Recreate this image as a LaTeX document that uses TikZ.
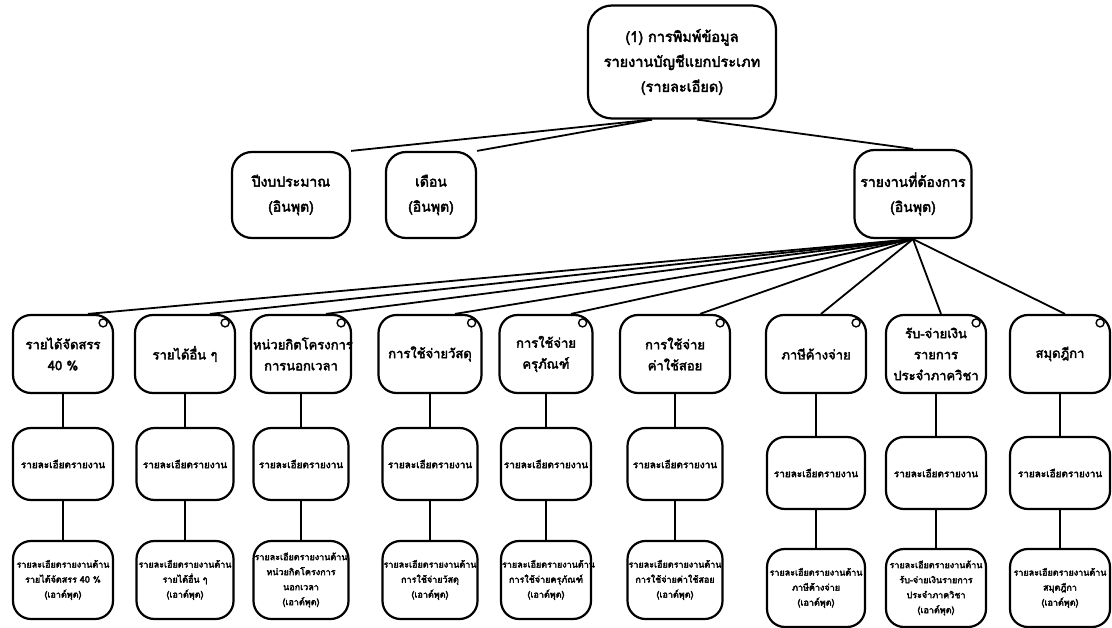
\documentclass[tikz,border=0pt]{standalone}
\usepackage{fontspec}
\usetikzlibrary{calc}
\newfontfamily\thaifont[Script=Thai,FakeBold=3]{Loma}
\begin{document}
\begin{tikzpicture}[x=1pt,y=-1pt,
  box/.style={draw,line width=2.2pt,rounded corners=18pt,align=center,inner sep=1pt,font=\thaifont\fontsize{13}{21}\selectfont},
  small/.style={box,font=\thaifont\fontsize{10}{15}\selectfont},
  link/.style={line width=1.8pt},
  sel/.style={draw,circle,line width=1.4pt,minimum size=8pt,inner sep=0pt}]
\useasboundingbox (0,0) rectangle (1112,628);
% top
\node[box,minimum width=188pt,minimum height=113pt,rounded corners=24pt,font=\thaifont\fontsize{14.5}{25}\selectfont] (top) at (682,62) {(1) การพิมพ์ข้อมูล\\รายงานบัญชีแยกประเภท\\(รายละเอียด)};
% level 2
\node[box,minimum width=118pt,minimum height=86pt,rounded corners=20pt,font=\thaifont\fontsize{14}{25}\selectfont] (p1) at (291,195) {ปีงบประมาณ\\(อินพุต)};
\node[box,minimum width=90pt,minimum height=86pt,rounded corners=20pt,font=\thaifont\fontsize{14}{25}\selectfont] (p2) at (431,195) {เดือน\\(อินพุต)};
\node[box,minimum width=117pt,minimum height=88pt,rounded corners=20pt,font=\thaifont\fontsize{14}{25}\selectfont] (p3) at (913,194) {รายงานที่ต้องการ\\(อินพุต)};
\draw[link] ($(top.south)+(-30,0)$) -- (p1.north east);
\draw[link] ($(top.south)+(-30,0)$) -- (p2.north east);
\draw[link] ($(top.south)+(15,0)$) -- (p3.north);
% level 3
\foreach \n/\x/\w/\dx/\t in {
  a/63/100/25/{รายได้จัดสรร\\40 \%},
  b/185/100/25/{รายได้อื่น ๆ},
  c/301/100/25/{หน่วยกิตโครงการ\\การนอกเวลา},
  d/430/103/25/{การใช้จ่ายวัสดุ},
  e/546/93/25/{การใช้จ่าย\\ครุภัณฑ์},
  f/675/110/25/{การใช้จ่าย\\ค่าใช้สอย},
  g/816/100/5/{ภาษีค้างจ่าย},
  h/936/100/5/{รับ-จ่ายเงิน\\รายการ\\ประจำภาควิชา},
  i/1060/100/5/{สมุดฎีกา}}{
  \node[box,minimum width=\w pt,minimum height=78pt,text width=\w pt-4pt] (L3\n) at (\x,354) {\t};
  \node[sel] (o\n) at ($(L3\n.north east)+(-11,9)$) {};
  \draw[link] (p3.south) -- ($(L3\n.north)+(\dx,0)$);
}
% level 4 and 5
\foreach \n/\w/\ya/\yb/\t in {
  a/100/464/580/{รายได้จัดสรร 40 \%\\(เอาต์พุต)},
  b/97/464/580/{รายได้อื่น ๆ\\(เอาต์พุต)},
  c/95/464/580/{หน่วยกิตโครงการ\\นอกเวลา\\(เอาต์พุต)},
  d/95/464/580/{การใช้จ่ายวัสดุ\\(เอาต์พุต)},
  e/90/464/580/{การใช้จ่ายครุภัณฑ์\\(เอาต์พุต)},
  f/95/464/580/{การใช้จ่ายค่าใช้สอย\\(เอาต์พุต)},
  g/98/473/588/{ภาษีค้างจ่าย\\(เอาต์พุต)},
  h/100/473/588/{รับ-จ่ายเงินรายการ\\ประจำภาควิชา\\(เอาต์พุต)},
  i/100/473/588/{สมุดฎีกา\\(เอาต์พุต)}}{
  \node[small,minimum width=\w pt,minimum height=72pt,text width=\w pt-2pt] (L4\n) at (L3\n.center |- 0,\ya) {รายละเอียดรายงาน};
  \node[small,minimum width=\w pt,minimum height=78pt,text width=\w pt-2pt,font=\thaifont\fontsize{9}{15}\selectfont] (L5\n) at (L3\n.center |- 0,\yb) {รายละเอียดรายงานด้าน\\\t};
  \draw[link] (L3\n.south) -- (L4\n.north);
  \draw[link] (L4\n.south) -- (L5\n.north);
}
\end{tikzpicture}
\end{document}
